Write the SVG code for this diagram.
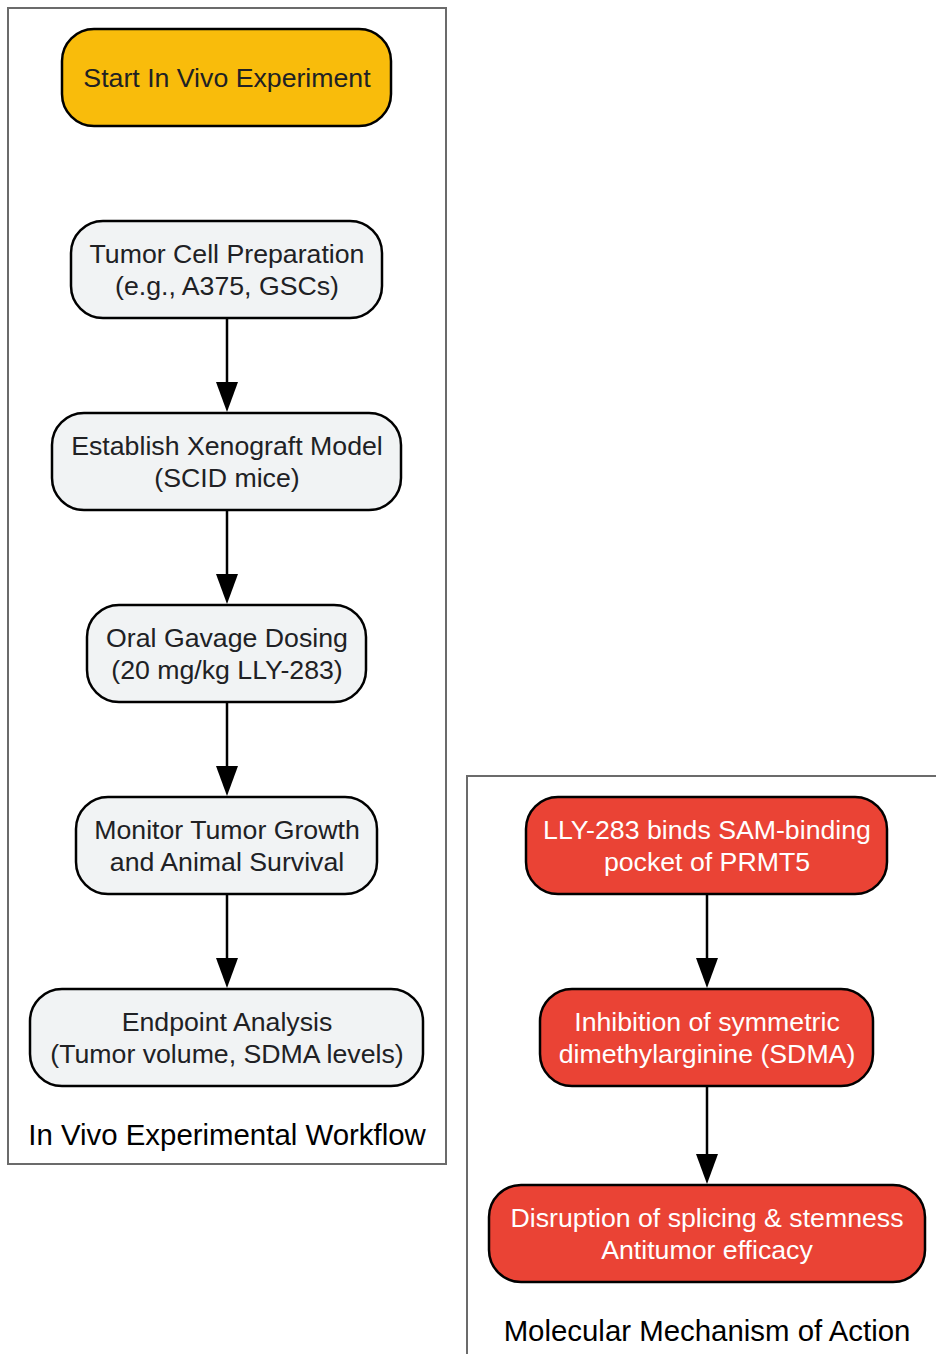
<svg xmlns="http://www.w3.org/2000/svg" width="936" height="1354" viewBox="0 0 936 1354">
<style>
.cluster{fill:#fff;stroke:#6b6b6b;stroke-width:2}
.node rect{stroke:#000;stroke-width:2.5}
.grey rect{fill:#F1F3F4}
.yellow rect{fill:#F9BC0B}
.red rect{fill:#EA4335}
text{font-family:"Liberation Sans",Arial,sans-serif;font-size:26.7px;text-anchor:middle}
.grey text,.yellow text{fill:#202124}
.red text{fill:#fff}
.clabel{fill:#000;font-size:29.4px}
.edge{stroke:#000;stroke-width:2.5;fill:none}
</style>
<rect fill="#fff" width="936" height="1354"/>
<g id="cluster-workflow">
<rect class="cluster" x="8" y="8" width="438" height="1156"/>
<text class="clabel" x="227" y="1145">In Vivo Experimental Workflow</text>
</g>
<g id="cluster-mechanism">
<rect class="cluster" x="467" y="776" width="480" height="600"/>
<text class="clabel" x="707" y="1341">Molecular Mechanism of Action</text>
</g>
<g id="connectors">
<path class="edge" d="M227,318 V382"/>
<path d="M216,382 L238,382 L227,412 Z"/>
<path class="edge" d="M227,510 V574"/>
<path d="M216,574 L238,574 L227,604 Z"/>
<path class="edge" d="M227,702 V766"/>
<path d="M216,766 L238,766 L227,796 Z"/>
<path class="edge" d="M227,894 V958"/>
<path d="M216,958 L238,958 L227,988 Z"/>
<path class="edge" d="M707,894 V958"/>
<path d="M696,958 L718,958 L707,988 Z"/>
<path class="edge" d="M707,1086 V1154"/>
<path d="M696,1154 L718,1154 L707,1184 Z"/>
</g>
<g id="start" class="node yellow">
<rect x="62" y="29" width="329" height="97" rx="32"/>
<text x="227" y="87">Start In Vivo Experiment</text>
</g>
<g id="prep" class="node grey">
<rect x="71" y="221" width="311" height="97" rx="32"/>
<text x="227" y="263">Tumor Cell Preparation</text>
<text x="227" y="295">(e.g., A375, GSCs)</text>
</g>
<g id="xenograft" class="node grey">
<rect x="52" y="413" width="349" height="97" rx="32"/>
<text x="227" y="455">Establish Xenograft Model</text>
<text x="227" y="487">(SCID mice)</text>
</g>
<g id="dosing" class="node grey">
<rect x="87" y="605" width="279" height="97" rx="32"/>
<text x="227" y="647">Oral Gavage Dosing</text>
<text x="227" y="679">(20 mg/kg LLY-283)</text>
</g>
<g id="monitor" class="node grey">
<rect x="76" y="797" width="301" height="97" rx="32"/>
<text x="227" y="839">Monitor Tumor Growth</text>
<text x="227" y="871">and Animal Survival</text>
</g>
<g id="endpoint" class="node grey">
<rect x="30" y="989" width="393" height="97" rx="32"/>
<text x="227" y="1031">Endpoint Analysis</text>
<text x="227" y="1063">(Tumor volume, SDMA levels)</text>
</g>
<g id="binds" class="node red">
<rect x="526" y="797" width="361" height="97" rx="32"/>
<text x="707" y="839">LLY-283 binds SAM-binding</text>
<text x="707" y="871">pocket of PRMT5</text>
</g>
<g id="inhibition" class="node red">
<rect x="540" y="989" width="333" height="97" rx="32"/>
<text x="707" y="1031">Inhibition of symmetric</text>
<text x="707" y="1063">dimethylarginine (SDMA)</text>
</g>
<g id="disruption" class="node red">
<rect x="489" y="1185" width="436" height="97" rx="32"/>
<text x="707" y="1227">Disruption of splicing &amp; stemness</text>
<text x="707" y="1259">Antitumor efficacy</text>
</g>
</svg>
